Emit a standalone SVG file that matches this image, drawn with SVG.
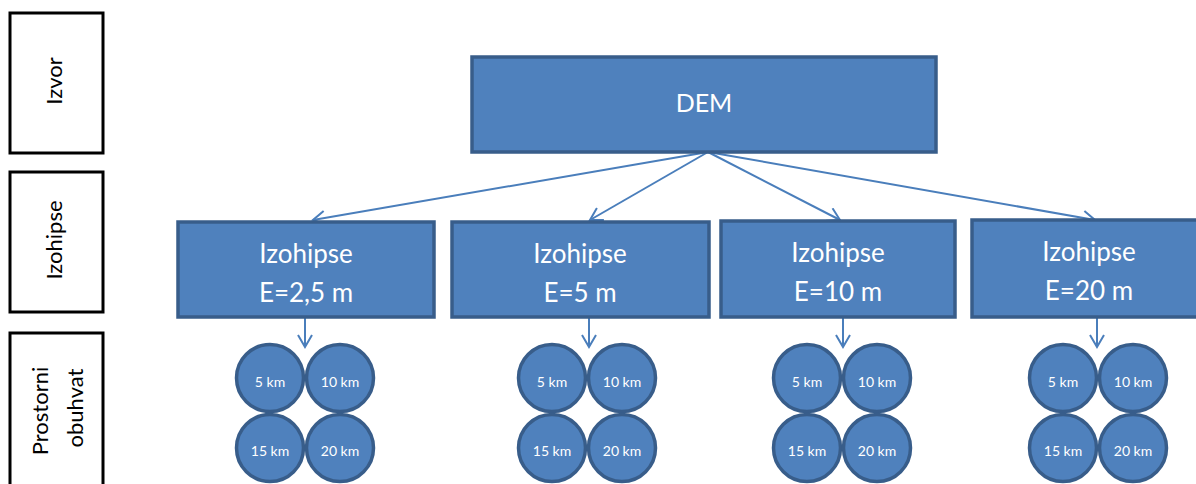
<svg xmlns="http://www.w3.org/2000/svg" width="1196" height="484" viewBox="0 0 1196 484">
<style>
.lbl{fill:#fff;stroke:#000;stroke-width:3}
.lt{font-family:Lato,"Open Sans",sans-serif;font-size:22px;fill:#000;text-anchor:middle}
.box{fill:#4f81bd;stroke:#385d8a;stroke-width:3.5}
.bt{font-family:Lato,"Open Sans",sans-serif;font-size:26px;fill:#fff;text-anchor:middle}
.dt{font-family:Lato,"Open Sans",sans-serif;font-size:25px;fill:#fff;text-anchor:middle}
.ct{font-family:Lato,"Open Sans",sans-serif;font-size:14px;fill:#fff;text-anchor:middle}
.con{stroke:#4a7ebb;stroke-width:2;fill:none}
</style>
<defs>
<marker id="ah" markerWidth="16" markerHeight="16" refX="13" refY="8" orient="auto" markerUnits="userSpaceOnUse">
<polyline points="1,1 13,8 1,15" fill="none" stroke="#4a7ebb" stroke-width="2"/>
</marker>
<g id="quad">
<circle cx="0" cy="0" r="33.5" class="box"/>
<circle cx="70" cy="0" r="33.5" class="box"/>
<circle cx="0" cy="70" r="33.5" class="box"/>
<circle cx="70" cy="70" r="33.5" class="box"/>
</g>
</defs>
<g id="label-izvor">
<rect x="10" y="13" width="93" height="140" class="lbl"/>
<text class="lt" transform="translate(62,81) rotate(-90)">Izvor</text>
</g>
<g id="label-izohipse">
<rect x="10" y="172" width="93" height="140" class="lbl"/>
<text class="lt" transform="translate(62,240) rotate(-90)">Izohipse</text>
</g>
<g id="label-prostorni">
<rect x="10" y="333" width="93" height="170" class="lbl"/>
<text class="lt" transform="translate(48,411) rotate(-90)">Prostorni</text>
<text class="lt" transform="translate(83,408) rotate(-90)">obuhvat</text>
</g>
<g id="connectors">
<line x1="708" y1="152" x2="313" y2="220" class="con" marker-end="url(#ah)"/>
<line x1="708" y1="152" x2="590" y2="220" class="con" marker-end="url(#ah)"/>
<line x1="708" y1="152" x2="840" y2="220" class="con" marker-end="url(#ah)"/>
<line x1="708" y1="152" x2="1095" y2="220" class="con" marker-end="url(#ah)"/>
<line x1="305" y1="318" x2="305" y2="347" class="con" marker-end="url(#ah)"/>
<line x1="589" y1="318" x2="589" y2="347" class="con" marker-end="url(#ah)"/>
<line x1="843" y1="318" x2="843" y2="347" class="con" marker-end="url(#ah)"/>
<line x1="1097" y1="318" x2="1097" y2="347" class="con" marker-end="url(#ah)"/>
</g>
<g id="dem">
<rect x="472" y="57" width="464" height="95" class="box"/>
<text class="dt" x="704" y="112">DEM</text>
</g>
<g id="izohipse-2-5">
<rect x="178" y="222" width="256" height="95" class="box"/>
<text class="bt" x="306" y="263">Izohipse</text>
<text class="bt" x="306" y="302">E=2,5 m</text>
</g>
<g id="izohipse-5">
<rect x="452" y="222" width="257" height="95" class="box"/>
<text class="bt" x="580" y="263">Izohipse</text>
<text class="bt" x="580" y="302">E=5 m</text>
</g>
<g id="izohipse-10">
<rect x="721" y="221" width="234" height="96" class="box"/>
<text class="bt" x="838" y="262">Izohipse</text>
<text class="bt" x="838" y="301">E=10 m</text>
</g>
<g id="izohipse-20">
<rect x="972" y="220" width="240" height="97" class="box"/>
<text class="bt" x="1089" y="261">Izohipse</text>
<text class="bt" x="1089" y="300">E=20 m</text>
</g>
<g id="obuhvat-1">
<use href="#quad" x="270" y="378"/>
<text class="ct" x="270" y="387">5 km</text>
<text class="ct" x="340" y="387">10 km</text>
<text class="ct" x="270" y="456">15 km</text>
<text class="ct" x="340" y="456">20 km</text>
</g>
<g id="obuhvat-2">
<use href="#quad" x="552" y="378"/>
<text class="ct" x="552" y="387">5 km</text>
<text class="ct" x="622" y="387">10 km</text>
<text class="ct" x="552" y="456">15 km</text>
<text class="ct" x="622" y="456">20 km</text>
</g>
<g id="obuhvat-3">
<use href="#quad" x="807" y="378"/>
<text class="ct" x="807" y="387">5 km</text>
<text class="ct" x="877" y="387">10 km</text>
<text class="ct" x="807" y="456">15 km</text>
<text class="ct" x="877" y="456">20 km</text>
</g>
<g id="obuhvat-4">
<use href="#quad" x="1063" y="378"/>
<text class="ct" x="1063" y="387">5 km</text>
<text class="ct" x="1133" y="387">10 km</text>
<text class="ct" x="1063" y="456">15 km</text>
<text class="ct" x="1133" y="456">20 km</text>
</g>
</svg>
